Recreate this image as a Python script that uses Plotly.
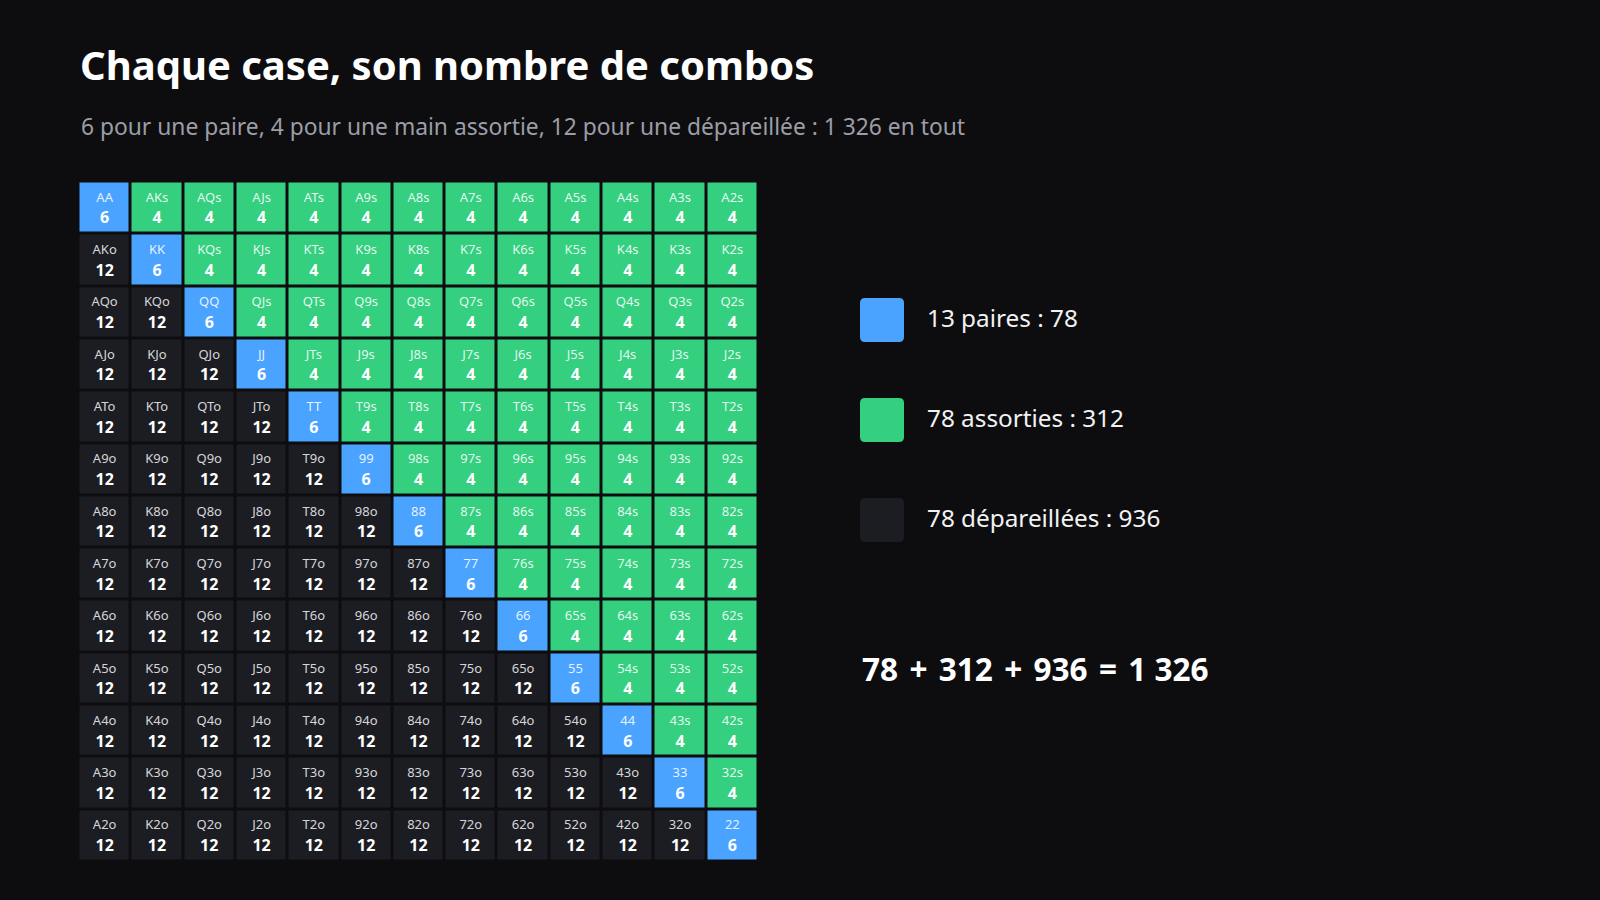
import plotly.graph_objects as go

ranks = ["A", "K", "Q", "J", "T", "9", "8", "7", "6", "5", "4", "3", "2"]
combos_pair = 6
combos_suited = 4
combos_offsuit = 12
legend_labels = ["13 paires : 78", "78 assorties : 312", "78 dépareillées : 936"]
equation_terms = ["78", "312", "936"]
equation_total = "1 326"
title = "Chaque case, son nombre de combos"
subtitle = "6 pour une paire, 4 pour une main assortie, 12 pour une dépareillée : 1 326 en tout"

BG = "#0d0d10"
BLUE = "#4aa3ff"
GREEN = "#34cf7f"
DARK = "#1c1d22"
FONT = "Noto Sans"

n = len(ranks)
z, hand, num = [], [], []
for r in range(n):
    zr, hr, nr = [], [], []
    for c in range(n):
        if r == c:
            zr.append(0); hr.append(ranks[r] * 2); nr.append(combos_pair)
        elif c > r:
            zr.append(1); hr.append(ranks[r] + ranks[c] + "s"); nr.append(combos_suited)
        else:
            zr.append(2); hr.append(ranks[c] + ranks[r] + "o"); nr.append(combos_offsuit)
    z.append(zr); hand.append(hr); num.append(nr)

fig = go.Figure()
fig.add_trace(go.Heatmap(
    z=z, x=list(range(n)), y=list(range(n)),
    colorscale=[[0, BLUE], [0.3333, BLUE], [0.3334, GREEN], [0.6666, GREEN], [0.6667, DARK], [1, DARK]],
    zmin=0, zmax=2, showscale=False, xgap=3, ygap=3, hoverinfo="skip",
))

lx, ly, lt, lc = [], [], [], []
nx, ny, nt = [], [], []
for r in range(n):
    for c in range(n):
        lx.append(c); ly.append(r - 0.175); lt.append(hand[r][c])
        lc.append("rgba(255,255,255,0.88)" if z[r][c] < 2 else "#d6d6da")
        nx.append(c); ny.append(r + 0.225); nt.append(str(num[r][c]))

fig.add_trace(go.Scatter(x=lx, y=ly, text=lt, mode="text", hoverinfo="skip",
                         textfont=dict(family=FONT, size=13, color=lc)))
fig.add_trace(go.Scatter(x=nx, y=ny, text=nt, mode="text", hoverinfo="skip",
                         textfont=dict(family=FONT, size=16, color="#ffffff", weight=700)))

W, H = 1600, 900
def px(x): return x / W
def py(y): return 1 - y / H

fig.update_layout(
    width=W, height=H, margin=dict(l=0, r=0, t=0, b=0),
    paper_bgcolor=BG, plot_bgcolor=BG, showlegend=False,
    xaxis=dict(domain=[px(78.5), px(758.5)], range=[-0.5, n - 0.5], visible=False, fixedrange=True),
    yaxis=dict(domain=[py(861.5), py(181.5)], range=[n - 0.5, -0.5], visible=False, fixedrange=True),
    font=dict(family=FONT),
)

hs = "&#8202;"
sep_plus = " " + hs + "+" + hs + " "
sep_eq = " " + hs + "=" + hs + " "
equation = sep_plus.join(equation_terms) + sep_eq + equation_total

ann = [
    dict(text="<b>" + title + "</b>", x=px(78), y=py(65), xanchor="left", yanchor="middle",
         font=dict(size=40, color="#ffffff", family=FONT)),
    dict(text=subtitle, x=px(79), y=py(127), xanchor="left", yanchor="middle",
         font=dict(size=22.8, color="#9d9da6", family=FONT)),
    dict(text="<b>" + equation + "</b>", x=px(860), y=py(668), xanchor="left", yanchor="middle",
         font=dict(size=31.5, color="#ffffff", family=FONT)),
]
colors = [BLUE, GREEN, DARK]
shapes = []
for i, (lab, col) in enumerate(zip(legend_labels, colors)):
    y0 = 298 + 100 * i
    x0, x1, y1 = 860, 904, y0 + 44
    rr = 5
    path = (f"M {px(x0+rr)} {py(y0)} L {px(x1-rr)} {py(y0)} Q {px(x1)} {py(y0)} {px(x1)} {py(y0+rr)} "
            f"L {px(x1)} {py(y1-rr)} Q {px(x1)} {py(y1)} {px(x1-rr)} {py(y1)} "
            f"L {px(x0+rr)} {py(y1)} Q {px(x0)} {py(y1)} {px(x0)} {py(y1-rr)} "
            f"L {px(x0)} {py(y0+rr)} Q {px(x0)} {py(y0)} {px(x0+rr)} {py(y0)} Z")
    shapes.append(dict(type="path", xref="paper", yref="paper", path=path,
                       fillcolor=col, line=dict(width=0), layer="above"))
    ann.append(dict(text=lab, x=px(925), y=py(y0 + 19), xanchor="left", yanchor="middle",
                    font=dict(size=24.3, color="#f2f2f2", family=FONT)))

for a in ann:
    a.update(xref="paper", yref="paper", showarrow=False)
fig.update_layout(annotations=ann, shapes=shapes)

fig.write_html("out.html")
